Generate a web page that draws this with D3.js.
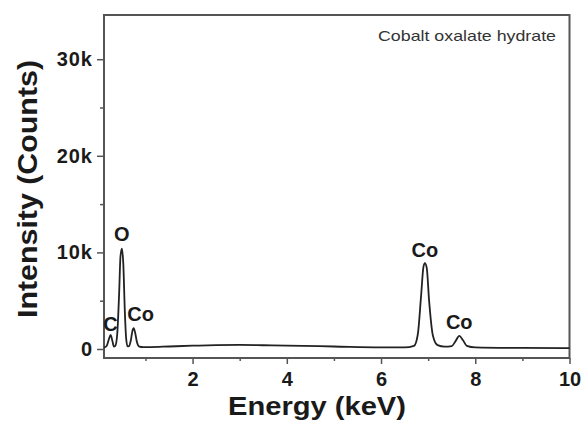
<!DOCTYPE html>
<html><head><meta charset="utf-8">
<script src="https://cdn.jsdelivr.net/npm/d3@7"></script>
<style>
html,body{margin:0;padding:0;background:#fff;}
svg text{font-family:"Liberation Sans",Arial,Helvetica,sans-serif;}
</style></head>
<body><svg id="c" width="587" height="425"></svg>
<script>
// Spectrum data (energy in keV, intensity in counts)
const energy = [0.12,0.15,0.18,0.22,0.26,0.30,0.33,0.36,0.40,0.44,0.47,0.50,0.53,0.56,0.59,0.62,0.65,0.69,0.72,0.75,0.78,0.82,0.87,0.95,1.1,1.5,2.0,2.5,3.0,3.5,4.0,5.0,6.0,6.5,6.7,6.78,6.85,6.9,6.93,6.97,7.02,7.1,7.2,7.35,7.5,7.58,7.66,7.74,7.82,8.0,9.0,10.0];
const counts = [150,220,350,950,1450,800,250,320,1500,5600,9600,10400,8800,4200,1100,280,300,900,1800,2150,1700,700,250,200,200,260,340,400,420,390,350,260,170,160,330,1500,5500,8500,8900,8400,5000,1400,400,240,300,800,1350,900,330,170,110,80];

const xTicks = [2,4,6,8,10];
const xMinorTicks = [1,3,5,7,9];
const yTicks = [0,10000,20000,30000];
const yTickLabels = ["0","10k","20k","30k"];
const yMinorTicks = [5000,15000,25000];

const peakLabels = ["C","O","Co","Co","Co"];
const peakEnergy = [0.26,0.50,0.75,6.93,7.66];
const peakLabelCounts = [1850,11150,2900,9550,2100];

const title = "Cobalt oxalate hydrate";
const xTitle = "Energy (keV)";
const yTitle = "Intensity (Counts)";

const L = 104, T = 15, R = 569.5, B = 358;
const svg = d3.select("#c");
const x = d3.scaleLinear().domain([0.12,10]).range([L,R]);
const y = d3.scaleLinear().domain([-932,34576]).range([B,T]);

const axisColor = "#555";

// minor ticks
svg.append("g").attr("transform",`translate(0,${B})`)
  .call(d3.axisBottom(x).tickValues(xMinorTicks).tickSize(3).tickSizeOuter(0).tickFormat(""))
  .call(g=>g.select(".domain").remove())
  .call(g=>g.selectAll("line").attr("stroke",axisColor).attr("stroke-width",1.5));
svg.append("g").attr("transform",`translate(${L},0)`)
  .call(d3.axisLeft(y).tickValues(yMinorTicks).tickSize(4).tickSizeOuter(0).tickFormat(""))
  .call(g=>g.select(".domain").remove())
  .call(g=>g.selectAll("line").attr("stroke",axisColor).attr("stroke-width",1.5));

// major axes
const gx = svg.append("g").attr("transform",`translate(0,${B})`)
  .call(d3.axisBottom(x).tickValues(xTicks).tickSize(6).tickSizeOuter(0).tickPadding(8).tickFormat(d3.format("d")));
gx.select(".domain").remove();
gx.selectAll("line").attr("stroke",axisColor).attr("stroke-width",1.5);
gx.selectAll("text").attr("font-size",20).attr("font-weight","bold").attr("fill","#1a1a1a")
  .attr("font-family","'Liberation Sans',Arial,sans-serif");

const gy = svg.append("g").attr("transform",`translate(${L},0)`)
  .call(d3.axisLeft(y).tickValues(yTicks).tickSize(7).tickSizeOuter(0).tickPadding(4)
    .tickFormat((d,i)=>yTickLabels[i]));
gy.select(".domain").remove();
gy.selectAll("line").attr("stroke",axisColor).attr("stroke-width",1.5);
gy.selectAll("text").attr("font-size",20).attr("font-weight","bold").attr("fill","#1a1a1a")
  .attr("font-family","'Liberation Sans',Arial,sans-serif")
  .attr("letter-spacing",1);

// frame
svg.append("rect").attr("x",L).attr("y",T).attr("width",R-L).attr("height",B-T)
  .attr("fill","none").attr("stroke",axisColor).attr("stroke-width",2);

// spectrum
const data = energy.map((e,i)=>({e,c:counts[i]}));
svg.append("path").datum(data)
  .attr("fill","none").attr("stroke","#222").attr("stroke-width",1.8)
  .attr("stroke-linejoin","round")
  .attr("d",d3.line().x(d=>x(d.e)).y(d=>y(d.c)).curve(d3.curveMonotoneX));

// peak labels
svg.append("g").selectAll("text").data(peakLabels).join("text")
  .attr("x",(d,i)=>x(peakEnergy[i]) + (i===2?7:0))
  .attr("y",(d,i)=>y(peakLabelCounts[i]))
  .attr("text-anchor","middle")
  .attr("font-size",20).attr("font-weight","bold").attr("fill","#1a1a1a")
  .text(d=>d);

// title in box
svg.append("text").attr("x",378).attr("y",41)
  .attr("font-size",15).attr("fill","#333").attr("textLength",178).attr("lengthAdjust","spacingAndGlyphs")
  .text(title);

// axis titles
svg.append("text").attr("x",317).attr("y",415).attr("text-anchor","middle")
  .attr("font-size",25).attr("font-weight","bold").attr("fill","#1a1a1a")
  .attr("textLength",178).attr("lengthAdjust","spacingAndGlyphs")
  .text(xTitle);
svg.append("text").attr("transform","translate(37,189) rotate(-90)").attr("text-anchor","middle")
  .attr("font-size",28).attr("font-weight","bold").attr("fill","#1a1a1a")
  .attr("textLength",258).attr("lengthAdjust","spacingAndGlyphs")
  .text(yTitle);
</script></body></html>
